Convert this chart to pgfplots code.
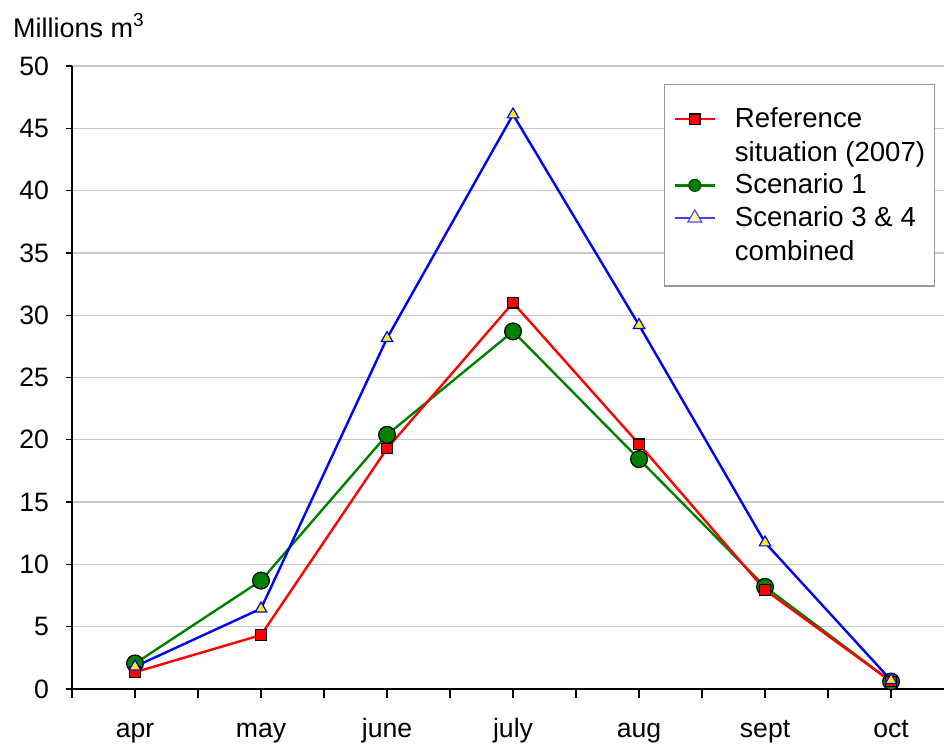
\documentclass[border=0pt]{standalone}
\usepackage{fontspec}
\setmainfont{Liberation Sans}
\usepackage{pgfplots}
\pgfplotsset{compat=1.18}

\definecolor{refred}{RGB}{255,0,0}
\definecolor{scgreen}{RGB}{0,128,0}
\definecolor{scblue}{RGB}{0,0,255}
\definecolor{gridgray}{RGB}{200,200,200}

\begin{document}
\begin{tikzpicture}
\path[use as bounding box] (-36pt,-27.5pt) rectangle (436pt,344.5pt);
\begin{axis}[
    at={(0,0)}, anchor=south west,
    scale only axis,
    width=436pt, height=311.5pt,
    xmin=-0.5, xmax=6.42,
    ymin=0, ymax=50,
    ytick={0,5,...,50},
    ymajorgrids,
    grid style={gridgray, line width=0.6pt},
    axis x line=bottom, axis y line=left,
    axis line style={-, black, line width=0.6pt},
    tick align=outside,
    major tick length=3pt,
    tick style={black, line width=0.6pt},
    xtick={-0.5,0.5,...,5.5},
    xticklabels={},
    extra x ticks={0,1,2,3,4,5,6},
    extra x tick labels={apr,may,june,july,aug,sept,oct},
    extra x tick style={major tick length=0pt,
        xticklabel style={anchor=base, yshift=-24.5pt}},
    xtick style={/pgfplots/major tick length=4.5pt},
    /pgf/number format/assume math mode=true,
    ticklabel style={font=\fontsize{13.3}{16}\selectfont},
    yticklabel style={xshift=-5pt},
    ylabel={Millions m\textsuperscript{3}},
    ylabel style={rotate=-90, anchor=base west, at={(axis description cs:0,1)},
        xshift=-33pt, yshift=14.5pt, font=\fontsize{13.5}{16}\selectfont},
    legend style={at={(rel axis cs:0.679,0.971)}, anchor=north west,
        draw=gray!80, line width=0.6pt, inner xsep=4.5pt, inner ysep=11.5pt,
        font=\fontsize{13.8}{16.8}\selectfont,
        nodes={inner ysep=0pt, inner xsep=0pt},
        cells={align=left}, row sep=4.8pt, column sep=9.5pt},
    legend cell align=left,
    legend image code/.code={
        \draw[mark repeat=2,mark phase=2] plot coordinates {(0cm,0cm) (0.35cm,0cm) (0.7cm,0cm)};},
]
\addlegendimage{refred, line width=1.2pt, mark=square*, mark size=2.6pt,
    mark options={fill=refred, draw=black, line width=0.6pt},
    legend image code/.code={
        \draw[mark repeat=2,mark phase=2] plot coordinates {(0cm,8.4pt) (0.35cm,8.4pt) (0.7cm,8.4pt)};}}
\addlegendentry{Reference\\situation (2007)}
\addlegendimage{scgreen, line width=1.2pt, mark=*, mark size=3pt,
    mark options={fill=scgreen, draw=scgreen!60!black, line width=0.6pt}}
\addlegendentry{Scenario 1}
\addlegendimage{scblue!75, line width=1.2pt, mark=triangle*, mark size=4pt,
    mark options={fill=yellow!35, draw=scblue!70, line width=0.6pt},
    legend image code/.code={
        \draw[mark repeat=2,mark phase=2] plot coordinates {(0cm,8.4pt) (0.35cm,8.4pt) (0.7cm,8.4pt)};}}
\addlegendentry{Scenario 3 \& 4\\combined}

% Scenario 1
\addplot[scgreen, line width=1.2pt, mark=*, mark size=4.2pt,
    mark options={fill=scgreen, draw=black, line width=0.6pt}, forget plot]
    coordinates {(0,2.05) (1,8.7) (2,20.4) (3,28.7) (4,18.45) (5,8.2) (6,0.6)};
% Reference situation (2007)
\addplot[refred, line width=1.2pt, mark=square*, mark size=2.6pt,
    mark options={fill=refred, draw=black, line width=0.6pt}, forget plot]
    coordinates {(0,1.35) (1,4.33) (2,19.3) (3,31.0) (4,19.65) (5,7.95) (6,0.6)};
% Scenario 3 & 4 combined
\addplot[scblue, line width=1.2pt, mark=triangle*, mark size=3.3pt,
    mark options={fill=yellow, draw=scblue, line width=0.6pt}, forget plot]
    coordinates {(0,1.8) (1,6.45) (2,28.15) (3,46.1) (4,29.2) (5,11.75) (6,0.7)};
\end{axis}
\end{tikzpicture}
\end{document}
